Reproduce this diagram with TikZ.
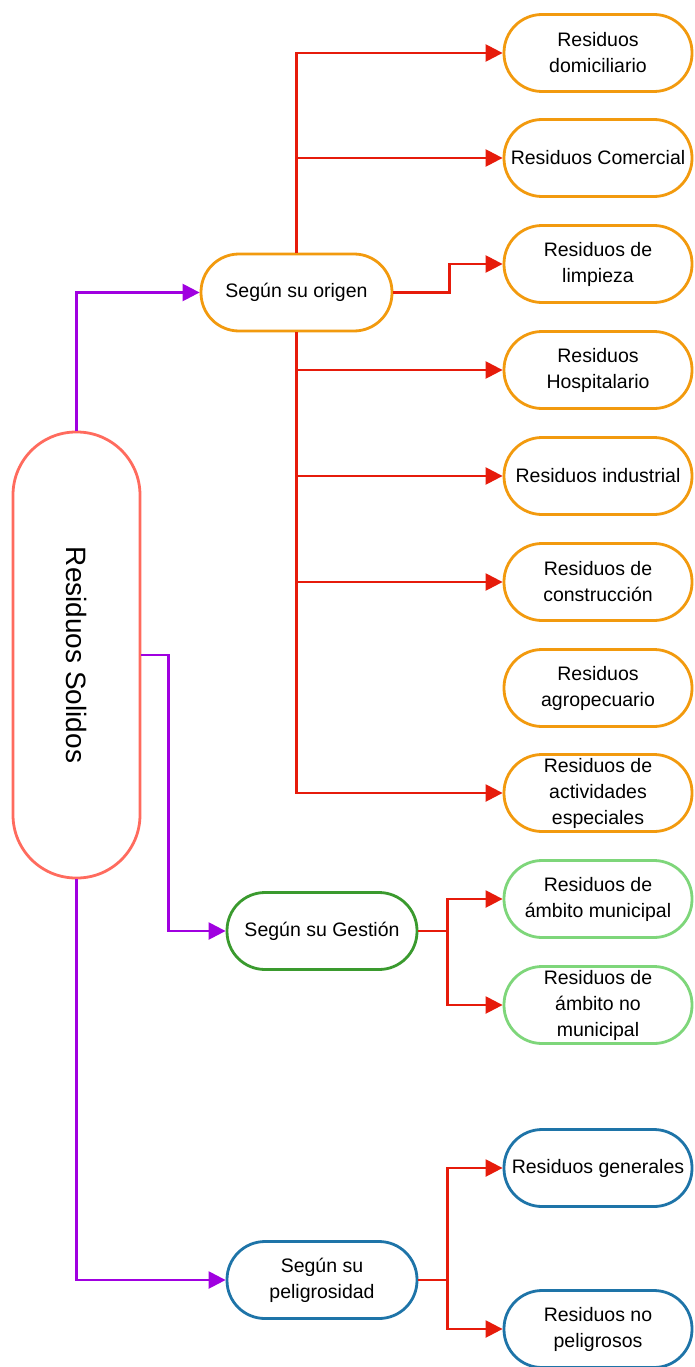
\documentclass[tikz,border=0pt]{standalone}
\usepackage{fontspec}
\setmainfont{Liberation Sans}
\usepackage{xcolor}
\usetikzlibrary{arrows.meta}

\definecolor{salmon}{HTML}{FF6B5E}
\definecolor{naranja}{HTML}{F29A0E}
\definecolor{verdeosc}{HTML}{3A9A2E}
\definecolor{verdecl}{HTML}{7ED67A}
\definecolor{azul}{HTML}{1E74A8}
\definecolor{rojo}{HTML}{E61B0B}
\definecolor{morado}{HTML}{A000E0}

\begin{document}
\begin{tikzpicture}[x=1pt,y=-1pt,
    caja/.style={draw, line width=2.8pt, fill=white, rounded corners=38pt,
      minimum width=188pt, minimum height=77pt, align=center, inner sep=2pt,
      font=\fontsize{19.5}{26}\selectfont},
    flecha/.style={line width=2.4pt, -{Triangle[length=17pt,width=17pt]}},
    morada/.style={flecha, morado},
    roja/.style={flecha, rojo}]
             \useasboundingbox (0,0) rectangle (694,1367);

             \node[draw=salmon, line width=2.8pt, rounded corners=63pt,
               minimum width=127pt, minimum height=446pt,
               font=\fontsize{28}{34}\selectfont] (rs) at (76.5,655)
               {\rotatebox{-90}{Residuos Solidos}};

             \node[caja, draw=naranja, minimum width=191pt] (origen) at (296.5,292.5) {Según su origen};
             \node[caja, draw=verdeosc, minimum width=190pt] (gestion) at (322,931) {Según su Gestión};
             \node[caja, draw=azul, minimum width=190pt] (peligro) at (322,1280) {Según su\\peligrosidad};

             \node[caja, draw=naranja] (dom) at (598,53) {Residuos\\domiciliario};
             \node[caja, draw=naranja] (com) at (598,158) {Residuos Comercial};
             \node[caja, draw=naranja] (limp) at (598,264) {Residuos de\\limpieza};
             \node[caja, draw=naranja] (hosp) at (598,370) {Residuos\\Hospitalario};
             \node[caja, draw=naranja] (ind) at (598,476) {Residuos industrial};
             \node[caja, draw=naranja] (cons) at (598,582) {Residuos de\\construcción};
             \node[caja, draw=naranja] (agro) at (598,688) {Residuos\\agropecuario};
             \node[caja, draw=naranja] (esp) at (598,793) {Residuos de\\actividades\\especiales};
             \node[caja, draw=verdecl] (mun) at (598,899) {Residuos de\\ámbito municipal};
             \node[caja, draw=verdecl] (nomun) at (598,1005) {Residuos de\\ámbito no\\municipal};
             \node[caja, draw=azul] (gen) at (598,1168) {Residuos generales};
             \node[caja, draw=azul] (nop) at (598,1329) {Residuos no\\peligrosos};

             \draw[morada] (rs.north) |- (origen.west);
             \draw[morada] (rs.east) -- ++(27,0) |- (gestion.west);
             \draw[morada] (rs.south) |- (peligro.west);

             \draw[roja] (origen.north) |- (dom.west);
             \draw[roja] (origen.north |- com.west) -- (com.west);
             \draw[roja] (origen.east) -- ++(56,0) |- (limp.west);
             \draw[roja] (origen.south) |- (esp.west);
             \draw[roja] (origen.south |- hosp.west) -- (hosp.west);
             \draw[roja] (origen.south |- ind.west) -- (ind.west);
             \draw[roja] (origen.south |- cons.west) -- (cons.west);

             \draw[rojo, line width=2.4pt] (gestion.east) -- ++(29,0) coordinate (g1);
             \draw[roja] (g1) |- (mun.west);
             \draw[roja] (g1) |- (nomun.west);

             \draw[rojo, line width=2.4pt] (peligro.east) -- ++(29,0) coordinate (p1);
             \draw[roja] (p1) |- (gen.west);
             \draw[roja] (p1) |- (nop.west);
             \end{tikzpicture}
\end{document}
